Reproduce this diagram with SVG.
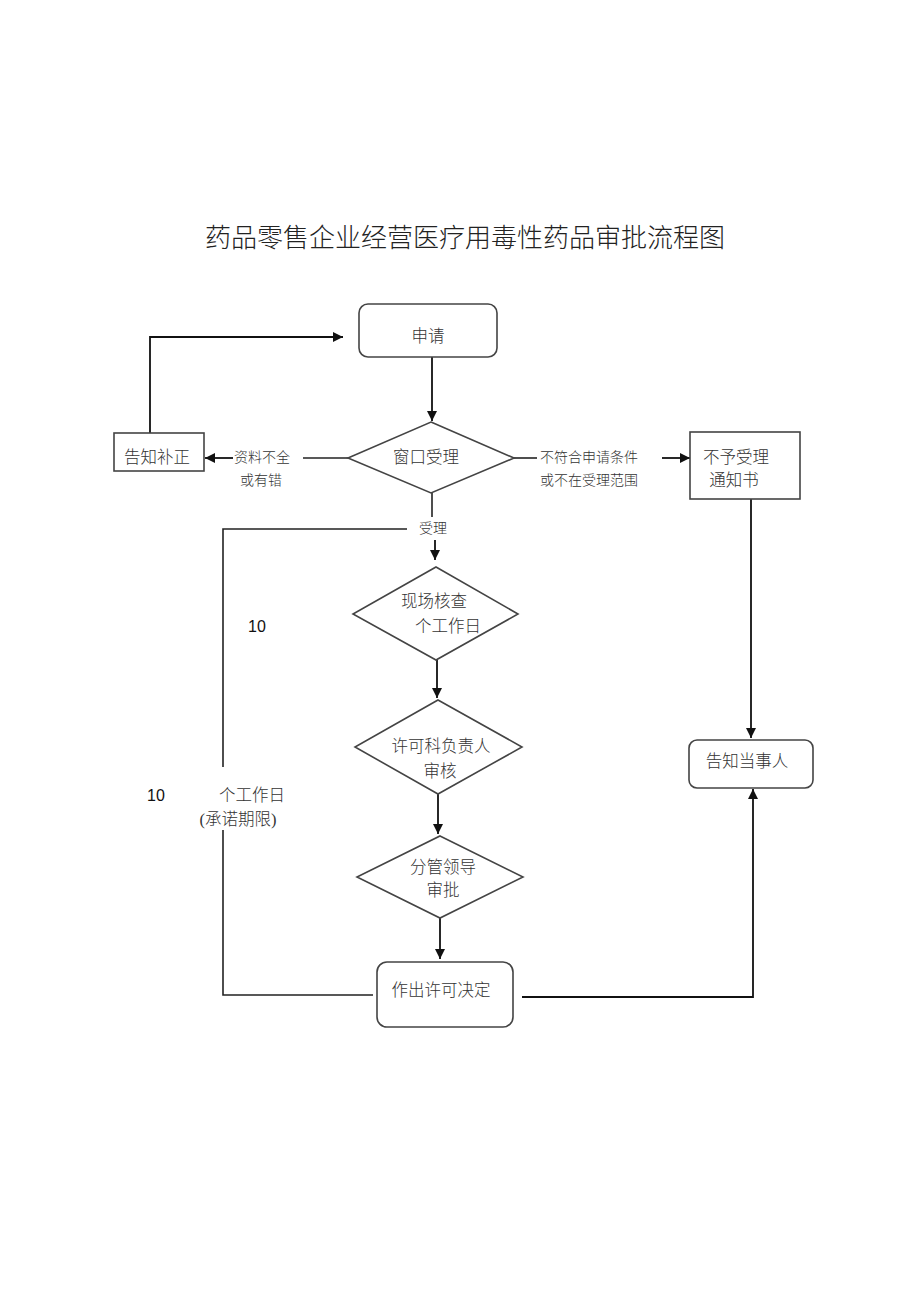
<svg xmlns="http://www.w3.org/2000/svg" width="920" height="1303" viewBox="0 0 920 1303">
<defs>
<marker id="arr" viewBox="0 0 10 10" refX="10" refY="5" markerWidth="10" markerHeight="10" markerUnits="userSpaceOnUse" orient="auto">
<path d="M0,0 L10,5 L0,10 z" fill="#111"/>
</marker>
</defs>
<style>
.t{font-family:"Liberation Serif","Noto Sans CJK SC",serif;fill:#333;text-anchor:middle;font-weight:300}
.n{font-size:16.5px}
.l{font-size:14px}
.num{font-family:"Liberation Sans",Arial,sans-serif;font-size:16px;fill:#111;text-anchor:middle}
.box{fill:#fff;stroke:#444;stroke-width:1.6}
.c{fill:none;stroke:#222;stroke-width:1.6}
.ca{fill:none;stroke:#111;stroke-width:1.8;marker-end:url(#arr)}
</style>
<rect width="920" height="1303" fill="#fff"/>
<text class="t" x="465" y="247" style="font-size:26px;fill:#222">药品零售企业经营医疗用毒性药品审批流程图</text>

<g id="connectors">
<line class="ca" x1="432" y1="357" x2="432" y2="421"/>
<polyline class="c" points="348,458 303,458"/>
<line class="ca" x1="233" y1="458" x2="205" y2="458"/>
<polyline class="ca" points="150,433 150,337 343,337"/>
<line class="c" x1="513" y1="458" x2="537" y2="458"/>
<line class="ca" x1="662" y1="458" x2="690" y2="458"/>
<line class="ca" x1="751" y1="499" x2="751" y2="738"/>
<line class="c" x1="432" y1="493" x2="432" y2="517"/>
<line class="ca" x1="435" y1="540" x2="435" y2="560"/>
<polyline class="c" points="407,529 223,529 223,767"/>
<polyline class="c" points="223,830 223,995 373,995"/>
<line class="ca" x1="437" y1="660" x2="437" y2="698"/>
<line class="ca" x1="438" y1="794" x2="438" y2="834"/>
<line class="ca" x1="440" y1="918" x2="440" y2="959"/>
<polyline class="ca" points="522,997 753,997 753,789"/>
</g>

<g id="n-shenqing">
<rect class="box" x="359" y="304" width="138" height="53" rx="9"/>
<text class="t n" x="428" y="342">申请</text>
</g>
<g id="n-chuangkou">
<polygon class="box" points="431,422 514,458 431,493 348,458"/>
<text class="t n" x="426" y="463">窗口受理</text>
</g>
<g id="n-buzheng">
<rect class="box" x="114" y="433" width="90" height="38"/>
<text class="t n" x="157" y="463">告知补正</text>
</g>
<g id="n-buyu">
<rect class="box" x="690" y="432" width="110" height="67"/>
<text class="t n" x="736" y="463">不予受理</text>
<text class="t n" x="734" y="486">通知书</text>
</g>
<g id="n-gaozhi">
<rect class="box" x="689" y="740" width="124" height="48" rx="8"/>
<text class="t n" x="747" y="767">告知当事人</text>
</g>
<g id="n-xianchang">
<polygon class="box" points="436,567 518,614 436,660 353,614"/>
<text class="t n" x="434" y="607">现场核查</text>
<text class="t n" x="448" y="632">个工作日</text>
</g>
<g id="n-xuke">
<polygon class="box" points="438,700 522,747 438,794 355,747"/>
<text class="t n" x="441" y="752">许可科负责人</text>
<text class="t n" x="440" y="777">审核</text>
</g>
<g id="n-fenguan">
<polygon class="box" points="440,836 523,877 440,918 357,877"/>
<text class="t n" x="443" y="873">分管领导</text>
<text class="t n" x="443" y="896">审批</text>
</g>
<g id="n-zuochu">
<rect class="box" x="377" y="962" width="136" height="65" rx="10"/>
<text class="t n" x="441" y="996">作出许可决定</text>
</g>

<g id="labels">
<text class="t l" x="262" y="462">资料不全</text>
<text class="t l" x="261" y="485">或有错</text>
<text class="t l" x="589" y="462">不符合申请条件</text>
<text class="t l" x="589" y="485">或不在受理范围</text>
<text class="t l" x="433" y="533">受理</text>
<text class="num" x="257" y="632">10</text>
<text class="num" x="156" y="801">10</text>
<text class="t n" x="252" y="801">个工作日</text>
<text class="t n" x="238" y="825">(承诺期限)</text>
</g>
</svg>
